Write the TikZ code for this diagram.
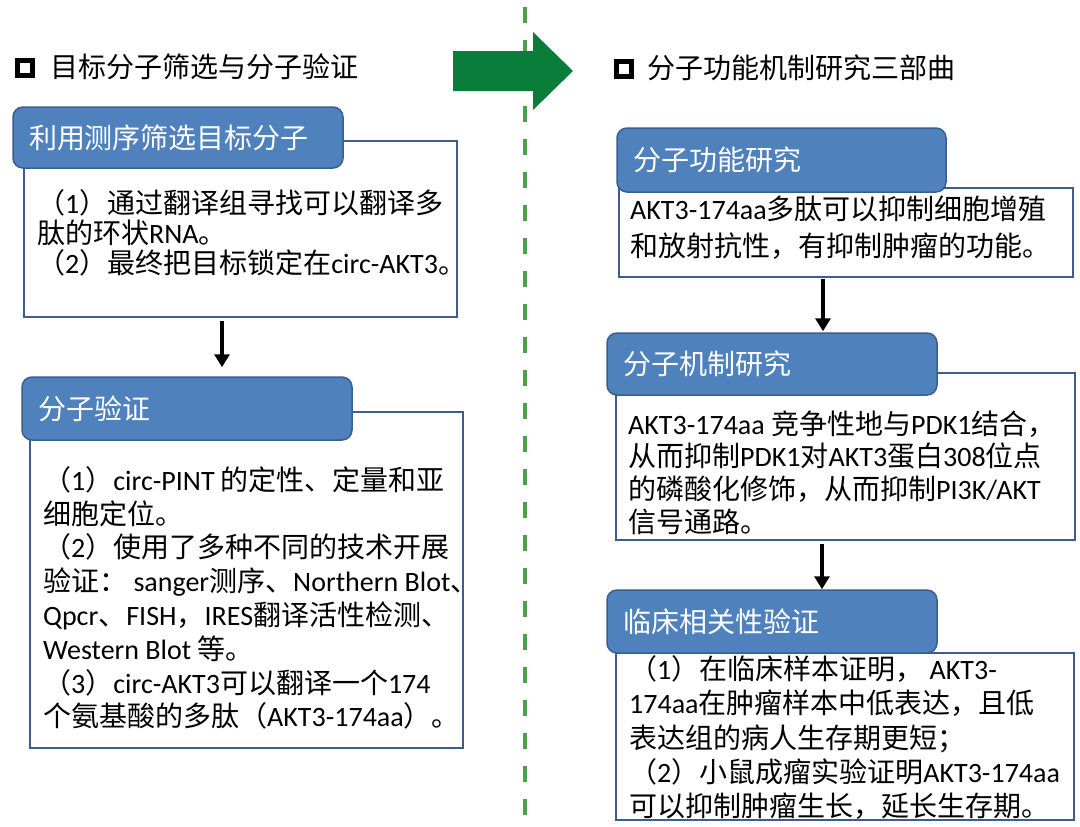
\documentclass[tikz,border=0pt]{standalone}
\usepackage{fontspec}
\setmainfont{Noto Sans CJK SC}
\newfontfamily\lat{Carlito}
\usetikzlibrary{arrows.meta}
\definecolor{hdrfill}{RGB}{79,129,189}
\definecolor{hdrline}{RGB}{58,95,142}
\definecolor{boxline}{RGB}{62,92,140}
\definecolor{arrowgreen}{RGB}{10,125,58}
\definecolor{dashgreen}{RGB}{78,158,78}
\newcommand{\la}[1]{{\lat #1}}
\newcommand{\fst}{\rule{0pt}{26pt}}
\newcommand{\bodyfont}[1]{\fontsize{28}{#1}\selectfont\lineskiplimit=-20pt\relax}
\begin{document}
\begin{tikzpicture}[x=1pt,y=-1pt,
  tbox/.style={draw=boxline, line width=2.5pt, fill=white, rectangle, inner sep=0pt},
  hbox/.style={draw=hdrline, line width=1.5pt, fill=hdrfill, rounded corners=10pt,
     text=white, align=left, inner xsep=16pt, inner ysep=0pt,
     font=\fontsize{28}{30}\selectfont},
  body/.style={anchor=north west, inner sep=0pt, align=left},
  title/.style={anchor=west, inner sep=0pt, font=\fontsize{28}{30}\selectfont},
  mark box/.style={draw=black, line width=5pt, minimum size=15pt, inner sep=0pt},
  flow/.style={-{Triangle[length=13pt,width=15pt]}, line width=4.5pt, black},
]
\fill[white] (0,0) rectangle (1080,827);
\useasboundingbox (0,0) rectangle (1080,827);

% divider and big arrow
\draw[dashgreen, line width=4pt, dash pattern=on 16pt off 17pt] (525,7) -- (525,827);
\fill[arrowgreen] (453,51) -- (533,51) -- (533,32) -- (573,71) -- (533,110) -- (533,91) -- (453,91) -- cycle;

% section titles
\node[mark box] (sq1) at (25,67.5) {};
\node[title] (t1) at (50,67) {目标分子筛选与分子验证};
\node[mark box] (sq2) at (624,68.5) {};
\node[title] (t2) at (647,68) {分子功能机制研究三部曲};

% left column boxes
\node[tbox, minimum width=433pt, minimum height=176pt] (tb1) at (240.5,229) {};
\node[hbox, minimum width=330pt, minimum height=61pt, text width=298pt] (h1) at (178,137.5) {利用测序筛选目标分子};
\node[tbox, minimum width=433pt, minimum height=336pt] (tb2) at (246.5,580) {};
\node[hbox, minimum width=330pt, minimum height=63pt, text width=298pt] (h2) at (187,408.5) {分子验证};

% right column boxes
\node[tbox, minimum width=454pt, minimum height=89pt] (rtb1) at (846,232.5) {};
\node[hbox, minimum width=329pt, minimum height=64pt, text width=297pt] (rh1) at (781.5,160) {分子功能研究};
\node[tbox, minimum width=459pt, minimum height=167pt] (rtb2) at (845.5,456.5) {};
\node[hbox, minimum width=330pt, minimum height=62pt, text width=298pt] (rh2) at (772,364) {分子机制研究};
\node[tbox, minimum width=458pt, minimum height=167pt] (rtb3) at (845,736.5) {};
\node[hbox, minimum width=330pt, minimum height=63pt, text width=298pt] (rh3) at (772,621.5) {临床相关性验证};

% body texts
\node[body, font={\bodyfont{30}}] (bd1) at (37,187)
 {\fst（\la{1}）通过翻译组寻找可以翻译多\\肽的环状\la{RNA}。\\（\la{2}）最终把目标锁定在\la{circ-AKT3}。};
\node[body, font={\bodyfont{33.8}}] (bd2) at (43,464)
 {\fst（\la{1}）\la{circ-PINT }的定性、定量和亚\\细胞定位。\\（\la{2}）使用了多种不同的技术开展\\验证：\la{ sanger}测序、\la{Northern Blot}、\\\la{Qpcr}、\la{FISH}，\la{IRES}翻译活性检测、\\\la{Western Blot }等。\\（\la{3}）\la{circ-AKT3}可以翻译一个\la{174}\\个氨基酸的多肽（\la{AKT3-174aa}）。};
\node[body, font={\bodyfont{37.5}}] (bd3) at (630,193)
 {\fst\la{AKT3-174aa}多肽可以抑制细胞增殖\\和放射抗性，有抑制肿瘤的功能。};
\node[body, font={\bodyfont{32.6}}] (bd4) at (628,408)
 {\fst\la{AKT3-174aa }竞争性地与\la{PDK1}结合，\\从而抑制\la{PDK1}对\la{AKT3}蛋白\la{308}位点\\的磷酸化修饰，从而抑制\la{PI3K/AKT}\\信号通路。};
\node[body, font={\bodyfont{34.4}}] (bd5) at (629,653)
 {\fst（\la{1}）在临床样本证明，\la{ AKT3-}\\\la{174aa}在肿瘤样本中低表达，且低\\表达组的病人生存期更短；\\（\la{2}）小鼠成瘤实验证明\la{AKT3-174aa}\\可以抑制肿瘤生长，延长生存期。};

% connectors
\draw[flow, shorten <=3pt, shorten >=9pt] ([xshift=-18.5pt]tb1.south) -- ([xshift=35pt]h2.north);
\draw[flow, shorten <=1pt, shorten >=1pt] ([xshift=-23pt]rtb1.south) -- ([xshift=51pt]rh2.north);
\draw[flow, shorten <=3pt, shorten >=0pt] ([xshift=-23.5pt]rtb2.south) -- ([xshift=50pt]rh3.north);
\end{tikzpicture}
\end{document}
